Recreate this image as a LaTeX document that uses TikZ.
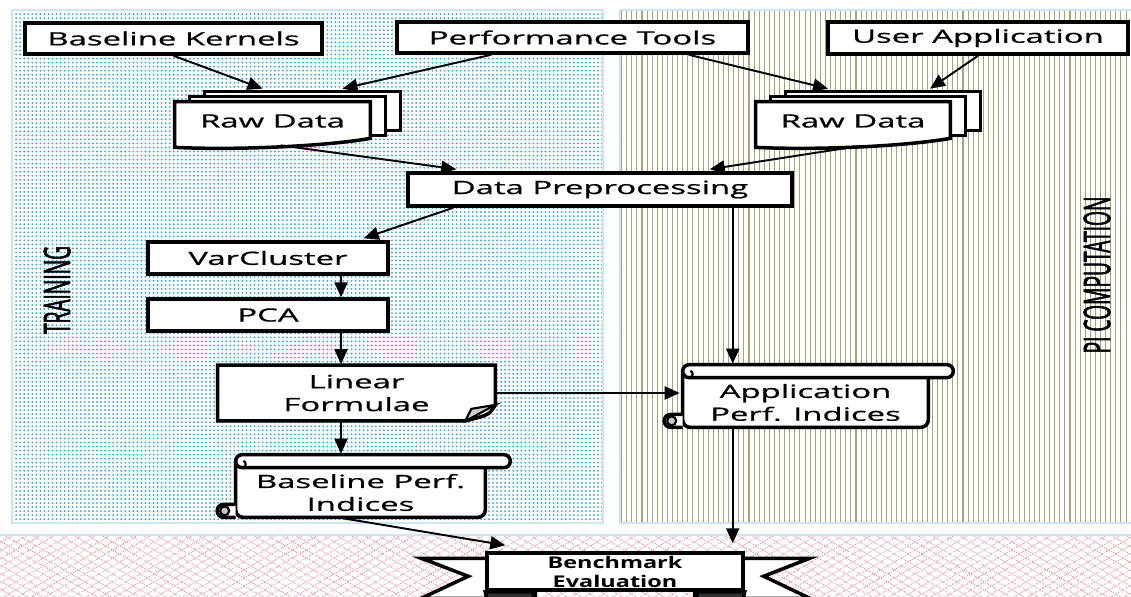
\documentclass[tikz,border=0pt]{standalone}
\usepackage{fontspec}
\setmainfont{Open Sans}[FakeStretch=1.8,FakeBold=0.8]
\newfontfamily\sidefont{Open Sans}[FakeStretch=0.52,FakeBold=1.5]
\newfontfamily\benchfont{Open Sans}[FakeStretch=1.45]
\usetikzlibrary{arrows.meta,calc,patterns.meta}

\definecolor{dotblue}{RGB}{60,170,230}
\definecolor{edgeblue}{RGB}{205,228,242}
\definecolor{stripe}{RGB}{176,160,118}
\definecolor{hatchpink}{RGB}{240,150,150}

\pgfdeclarelayer{back}
\pgfdeclarelayer{mid}
\pgfsetlayers{back,mid,main}

\tikzset{
  box/.style={draw, line width=2pt, fill=white, inner sep=1pt, align=center,
    font=\fontsize{10.4}{13}\selectfont},
  plain/.style={inner sep=1pt, align=center, font=\fontsize{10.4}{13}\selectfont},
  sline/.style={line width=2pt, fill=white},
  arr/.style={-{Triangle[length=0.3cm,width=0.26cm]}, line width=1.1pt},
  side/.style={rotate=90, font=\sidefont\fontsize{21}{21}\selectfont}
}

% stack of documents behind node #1
\newcommand{\docstack}[1]{
  \draw[sline] ($(#1.north west)+(30,-10)$) rectangle ($(#1.south east)+(30,-10)$);
  \draw[sline] ($(#1.north west)+(15,-5)$) rectangle ($(#1.south east)+(15,-5)$);
  \draw[sline] (#1.north west) -- (#1.north east) -- ($(#1.south east)+(0,-2)$)
    .. controls +(-45,8) and +(60,3) .. ($(#1.south west)+(0,7)$) -- cycle;
}

% scroll round node #1 (node = body below the top roll)
\newcommand{\scrollbg}[1]{
  \draw[sline, rounded corners=0.15cm] ($(#1.north west)+(0,-6.5)$) -- (#1.south west)
    -- (#1.south east) -- (#1.north east);
  \draw[sline] ($(#1.north west)+(6.5,-13)$) -- ($(#1.north east)+(18.5,-13)$)
    arc[start angle=90,end angle=-90,radius=0.13cm] -- ($(#1.north west)+(6.5,0)$)
    arc[start angle=270,end angle=90,radius=0.13cm] -- cycle;
  \draw[line width=1.2pt] ($(#1.north west)+(6.5,0)$)
    arc[start angle=270,end angle=430,radius=0.07cm];
  \draw[sline] (#1.south west) -- ($(#1.south west)+(-12,0)$)
    arc[start angle=270,end angle=90,radius=0.13cm] -- ($(#1.south west)+(0,-13)$);
  \filldraw[fill=gray!45, line width=1.2pt] ($(#1.south west)+(-11,-6.5)$) circle[radius=0.09cm];
}

% sheet with folded corner behind node #1
\newcommand{\notebg}[1]{
  \draw[sline] (#1.north west) -- (#1.north east) -- ($(#1.south east)+(0,-16)$)
    .. controls +(-6,10) .. ($(#1.south east)+(-30,0)$) -- (#1.south west) -- cycle;
  \filldraw[fill=gray!40, line width=1.2pt] ($(#1.south east)+(0,-16)$)
    -- ($(#1.south east)+(-24,-12)$) -- ($(#1.south east)+(-30,0)$)
    .. controls +(8,-4) .. cycle;
}

% ribbon wings behind node #1
\newcommand{\bannerbg}[1]{
  \draw[sline] ($(#1.north west)+(50,7)$) -- ($(#1.north west)+(-64,7)$)
    -- ($(#1.north west)+(-17,25)$) -- ($(#1.north west)+(-64,47)$)
    -- ($(#1.north west)+(50,47)$) -- cycle;
  \draw[sline] ($(#1.north east)+(-50,7)$) -- ($(#1.north east)+(65,7)$)
    -- ($(#1.north east)+(19,25)$) -- ($(#1.north east)+(65,47)$)
    -- ($(#1.north east)+(-50,47)$) -- cycle;
  \filldraw[line width=2pt, fill=black!80] (#1.south west) -- ($(#1.south west)+(2,10)$)
    -- ($(#1.south west)+(48,10)$) -- ($(#1.south west)+(48,0)$) -- cycle;
  \filldraw[line width=2pt, fill=black!80] (#1.south east) -- ($(#1.south east)+(-2,10)$)
    -- ($(#1.south east)+(-48,10)$) -- ($(#1.south east)+(-48,0)$) -- cycle;
}

\begin{document}
\begin{tikzpicture}[x=0.02cm,y=-0.02cm]
\useasboundingbox (0,0) rectangle (1131,596);

% regions
\begin{pgfonlayer}{back}
\fill[white] (0,0) rectangle (1131,596);
\path[pattern={Dots[distance=2.3pt,radius=0.6pt]}, pattern color=dotblue] (12,10) rectangle (603,523);
\draw[edgeblue, line width=1.5pt] (12,10) rectangle (603,523);
\path[pattern={Lines[angle=90,distance=2.9pt,line width=0.6pt]}, pattern color=stripe] (620,10) rectangle (1140,523);
\draw[edgeblue, line width=1.5pt] (620,10) rectangle (1140,523);
\path[pattern={Lines[angle=30,distance=4pt,line width=0.4pt]}, pattern color=hatchpink] (-5,535) rectangle (1140,600);
\path[pattern={Lines[angle=-30,distance=4pt,line width=0.4pt]}, pattern color=hatchpink] (-5,535) rectangle (1140,600);
\draw[edgeblue, line width=1.5pt] (-5,535) -- (1140,535);
\end{pgfonlayer}

\node[side] (train) at (57,290) {TRAINING};
\node[side] (picomp) at (1097,275) {PI COMPUTATION};

% inputs
\node[box, minimum width=5.94cm, minimum height=0.62cm] (kern) at (173.5,38.5) {Baseline Kernels};
\node[box, minimum width=7.02cm, minimum height=0.62cm] (tools) at (572.5,37.5) {Performance Tools};
\node[box, minimum width=6.0cm, minimum height=0.64cm] (user) at (978,38) {User Application};

\node[plain, minimum width=3.9cm, minimum height=0.76cm] (rawL) at (272.5,121) {Raw Data};
\node[plain, minimum width=3.88cm, minimum height=0.76cm] (rawR) at (853,121) {Raw Data};

\node[box, minimum width=7.68cm, minimum height=0.66cm] (prep) at (600,189.5) {Data Preprocessing};

% training
\node[box, minimum width=4.8cm, minimum height=0.64cm] (var) at (268,258) {VarCluster};
\node[box, minimum width=4.8cm, minimum height=0.64cm] (pca) at (268,315) {PCA};
\node[plain, minimum width=5.54cm, minimum height=1.1cm] (lin) at (356.5,393) {Linear\\Formulae};
\node[plain, minimum width=4.98cm, minimum height=0.98cm] (bpi) at (360.5,492.5) {Baseline Perf.\\Indices};

% pi computation
\node[plain, minimum width=4.9cm, minimum height=0.98cm] (api) at (805.5,402.5) {Application\\Perf. Indices};

\node[box, minimum width=5.12cm, minimum height=0.74cm, font=\benchfont\bfseries\fontsize{9.2}{10.8}\selectfont] (bench) at (615,571.5) {Benchmark\\Evaluation};

\begin{pgfonlayer}{mid}
\docstack{rawL}
\docstack{rawR}
\notebg{lin}
\scrollbg{bpi}
\scrollbg{api}
\bannerbg{bench}
\end{pgfonlayer}

% connectors
\draw[arr] (kern.south) -- ($(rawL.north)+(-10,-13)$);
\draw[arr] ($(tools.south west)+(96,0)$) -- ($(rawL.north)+(70,-13)$);
\draw[arr] ($(tools.south east)+(-61,0)$) -- ($(rawR.north)+(-25,-13)$);
\draw[arr] (user.south) -- ($(rawR.north)+(77,-13)$);
\draw[arr] ($(rawL.south)+(8,5)$) -- ($(prep.north west)+(50,-2)$);
\draw[arr] ($(rawR.south)+(4,6)$) -- ($(prep.north east)+(-84,-2)$);
\draw[arr] ($(prep.south west)+(47,0)$) -- ($(var.north east)+(-26,-2)$);
\draw[arr] ($(var.south)+(73,0)$) coordinate (c) -- (c |- pca.north);
\draw[arr] (c |- pca.south) -- ($(c |- lin.north)+(0,-1)$);
\draw[arr] (c |- lin.south) -- ($(c |- bpi.north)+(0,-14)$);
\draw[arr] (lin.east) -- ($(lin.east -| api.west)+(-3,0)$);
\draw[arr] ($(prep.south east)+(-61,0)$) coordinate (d) -- ($(d |- api.north)+(0,-14)$);
\draw[arr] (d |- api.south) -- ($(d |- bench.north)+(0,-8)$);
\draw[arr] ($(bpi.south)+(-17,1)$) -- ($(bench.north west)+(20,-6)$);
\end{tikzpicture}
\end{document}
